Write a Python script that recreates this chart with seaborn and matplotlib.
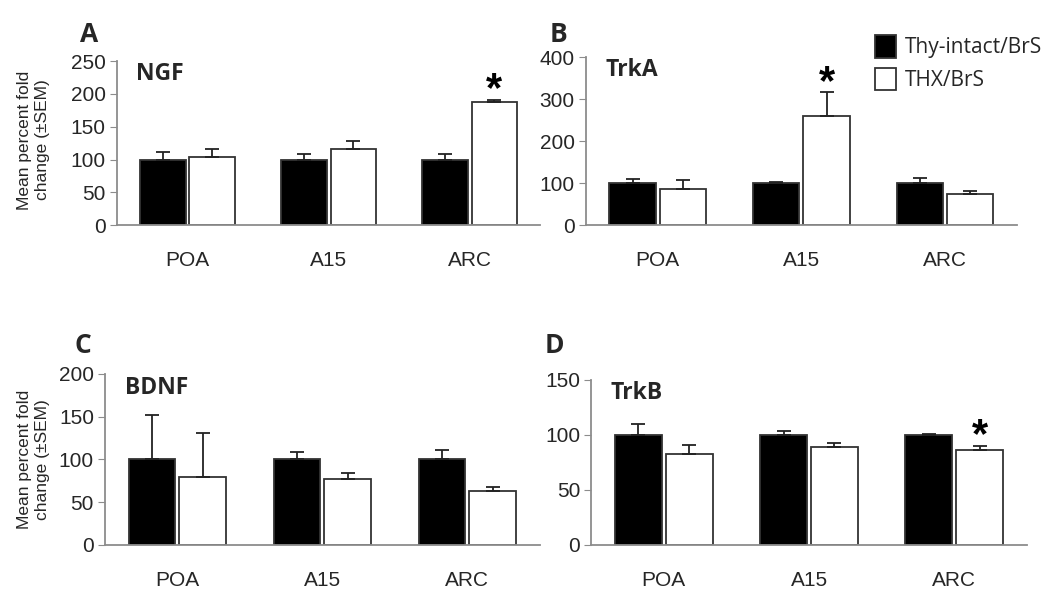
import pandas as pd
import matplotlib.pyplot as plt
import seaborn as sns

regions = ['POA', 'A15', 'ARC']
groups = ['Thy-intact/BrS', 'THX/BrS']

# mean percent fold change and SEM, per panel (black = intact, white = THX)
ngf_intact = [100, 100, 100]
ngf_intact_sem = [12, 9, 8]
ngf_thx = [104, 116, 188]
ngf_thx_sem = [12, 12, 3]

trka_intact = [100, 100, 100]
trka_intact_sem = [10, 2, 12]
trka_thx = [86, 260, 75]
trka_thx_sem = [22, 56, 7]

bdnf_intact = [100, 100, 100]
bdnf_intact_sem = [52, 9, 11]
bdnf_thx = [80, 77, 63]
bdnf_thx_sem = [51, 7, 5]

trkb_intact = [100, 100, 100]
trkb_intact_sem = [10, 4, 1]
trkb_thx = [83, 89, 86]
trkb_thx_sem = [8, 4, 4]

panels = [
    # letter, gene, intact, intact sem, thx, thx sem, ymax, ystep, star index
    ('A', 'NGF', ngf_intact, ngf_intact_sem, ngf_thx, ngf_thx_sem, 250, 50, 2),
    ('B', 'TrkA', trka_intact, trka_intact_sem, trka_thx, trka_thx_sem, 400, 100, 1),
    ('C', 'BDNF', bdnf_intact, bdnf_intact_sem, bdnf_thx, bdnf_thx_sem, 200, 50, None),
    ('D', 'TrkB', trkb_intact, trkb_intact_sem, trkb_thx, trkb_thx_sem, 150, 50, 2),
]

# axes rectangles in figure fractions
rects = [
    [0.1114, 0.621, 0.403, 0.276],
    [0.558, 0.621, 0.4105, 0.283],
    [0.100, 0.0825, 0.414, 0.288],
    [0.563, 0.0825, 0.415, 0.278],
]
# panel letter positions (figure fractions)
letter_pos = {'A': (0.076, 0.942), 'B': (0.523, 0.942),
              'C': (0.071, 0.418), 'D': (0.519, 0.418)}
# y label anchor (axes fractions) for the left-hand panels
ylabel_pos = {'A': (-0.158, 0.52), 'C': (-0.126, 0.5)}

sns.set_style('white')
plt.rcParams['font.family'] = ['Liberation Sans', 'DejaVu Sans']

fig = plt.figure(figsize=(10.5, 5.94), dpi=100)
spine_col = '#8c8c8c'
bold_font = ['Open Sans', 'DejaVu Sans']

for (letter, gene, m1, s1, m2, s2, ymax, ystep, star), rect in zip(panels, rects):
    ax = fig.add_axes(rect)
    df = pd.DataFrame({
        'region': regions * 2,
        'group': [groups[0]] * 3 + [groups[1]] * 3,
        'value': m1 + m2,
    })
    sns.barplot(data=df, x='region', y='value', hue='group', order=regions,
                hue_order=groups, palette=['black', 'white'], width=0.7, gap=0.08,
                edgecolor='#333333', linewidth=1.3, errorbar=None,
                legend=(letter == 'B'), ax=ax)

    # upper-only error bars
    for i, (cont, sems) in enumerate(zip(ax.containers, [s1, s2])):
        xs = [p.get_x() + p.get_width() / 2 for p in cont]
        ys = [p.get_height() for p in cont]
        ax.errorbar(xs, ys, yerr=[[0] * len(sems), sems], fmt='none',
                    ecolor='#222222', elinewidth=1.3, capsize=5, capthick=1.3)
        if i == 1 and star is not None:
            ax.annotate('*', (xs[star], ys[star] + sems[star]), xytext=(0, 7),
                        textcoords='offset points', ha='center', va='center',
                        fontsize=30, fontweight='bold', color='black')

    ax.set_xlim(-0.5, 2.5)
    ax.set_ylim(0, ymax)
    ax.set_yticks(range(0, ymax + 1, ystep))
    ax.tick_params(axis='y', left=True, length=5, color=spine_col, labelsize=15, pad=3)
    ax.tick_params(axis='x', bottom=False, labelsize=15, pad=15)
    for side in ['top', 'right']:
        ax.spines[side].set_visible(False)
    for side in ['left', 'bottom']:
        ax.spines[side].set_color(spine_col)
        ax.spines[side].set_linewidth(1.3)
    ax.set_xlabel('')
    if letter in ylabel_pos:
        ax.set_ylabel('Mean percent fold\nchange (\u00b1SEM)', fontsize=12.5,
                      linespacing=1.3)
        ax.yaxis.set_label_coords(*ylabel_pos[letter])
    else:
        ax.set_ylabel('')

    ax.text(0.045, 0.92, gene, transform=ax.transAxes, ha='left', va='center',
            fontsize=16.5, fontweight='bold', family=bold_font)
    fig.text(*letter_pos[letter], letter, ha='left', va='center',
             fontsize=19, fontweight='bold', family=bold_font)

    if letter == 'B':
        leg = ax.legend(loc='upper right', bbox_to_anchor=(1.0, 0.955),
                        bbox_transform=fig.transFigure, frameon=False,
                        handlelength=1.0, handleheight=1.3, handletextpad=0.4,
                        labelspacing=0.45, borderaxespad=0,
                        prop={'family': 'Open Sans', 'size': 15})
        for h in leg.legend_handles:
            h.set_edgecolor('#333333')
            h.set_linewidth(1.3)

fig.savefig('out.png', dpi=100)
